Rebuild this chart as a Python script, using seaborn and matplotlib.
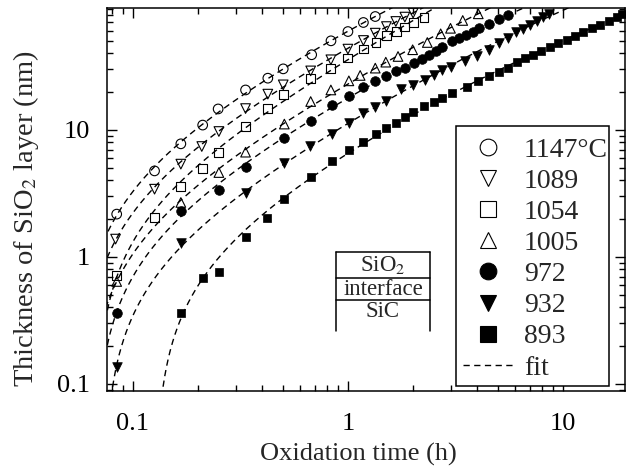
import numpy as np
import pandas as pd
import matplotlib
matplotlib.use("Agg")
import matplotlib.pyplot as plt
from matplotlib.lines import Line2D
from matplotlib.patches import Rectangle
from matplotlib.ticker import LogLocator, NullFormatter, FixedLocator, FixedFormatter
import seaborn as sns

# ---------------- data ----------------
temps = ["1147", "1089", "1054", "1005", "972", "932", "893"]
legend_labels = ["1147°C", "1089", "1054", "1005", "972", "932", "893", "fit"]

t1147 = [0.084, 0.126, 0.167, 0.211, 0.249, 0.334, 0.424, 0.50, 0.678, 0.834, 1.00, 1.18, 1.34]
d1147 = [2.17, 4.75, 7.76, 10.9, 14.6, 20.6, 25.5, 30.2, 39.0, 50.2, 59.4, 70.0, 78.0]

t1089 = [0.083, 0.126, 0.167, 0.209, 0.251, 0.334, 0.424, 0.50, 0.671, 0.833, 1.00, 1.18, 1.34,
         1.51, 1.67, 1.84, 2.01]
d1089 = [1.38, 3.41, 5.37, 7.39, 9.7, 14.7, 19.1, 22.6, 29.1, 35.6, 43.2, 50.5, 57.7,
         65.0, 71.3, 77.2, 83.0]

t1054 = [0.084, 0.126, 0.167, 0.210, 0.251, 0.334, 0.424, 0.50, 0.671, 0.833, 0.997, 1.18, 1.35,
         1.51, 1.68, 1.84, 2.01, 2.26]
d1054 = [0.718, 2.05, 3.58, 4.93, 6.67, 10.6, 14.8, 19.1, 25.2, 30.2, 36.7, 43.2, 49.0,
         55.3, 59.5, 64.4, 70.0, 77.1]

t1005 = [0.084, 0.167, 0.251, 0.334, 0.506, 0.671, 0.833, 1.01, 1.14, 1.34, 1.50, 1.71, 2.00,
         2.34, 2.70, 3.00, 3.42, 4.04]
d1005 = [0.64, 2.68, 4.61, 6.67, 11.1, 16.7, 20.6, 24.3, 26.8, 30.6, 34.1, 37.8, 42.7,
         48.7, 57.0, 63.0, 72.6, 81.9]

t972 = [0.084, 0.167, 0.251, 0.334, 0.504, 0.671, 0.84, 1.01, 1.18, 1.34, 1.50, 1.68, 1.84,
        2.03, 2.20, 2.39, 2.56, 2.75, 3.04, 3.28, 3.56, 3.83, 4.08, 4.53, 5.06, 5.54]
d972 = [0.36, 2.30, 3.33, 5.14, 8.6, 11.8, 15.6, 18.6, 21.7, 24.3, 26.6, 29.3, 30.9,
        33.5, 36.1, 39.0, 41.4, 45.0, 49.6, 52.7, 56.0, 59.4, 63.2, 68.4, 74.9, 79.5]

t932 = [0.084, 0.167, 0.334, 0.504, 0.666, 0.84, 1.01, 1.18, 1.34, 1.50, 1.76, 2.01, 2.28,
        2.51, 2.75, 3.00, 3.50, 4.00, 4.52, 5.04, 5.57, 6.04, 6.54, 7.00, 7.54, 8.11, 8.66]
d932 = [0.137, 1.28, 3.21, 5.47, 7.52, 9.25, 11.3, 13.5, 15.1, 16.9, 20.9, 22.6, 24.8,
        27.1, 29.5, 31.5, 34.9, 38.3, 42.7, 48.2, 53.3, 58.4, 62.1, 67.1, 71.3, 77.1, 81.9]

t893 = [0.168, 0.211, 0.252, 0.335, 0.421, 0.504, 0.671, 0.84, 1.01, 1.18, 1.35, 1.51, 1.68,
        1.84, 2.01, 2.26, 2.51, 2.73, 3.04, 3.59, 4.01, 4.54, 5.06, 5.57, 6.09, 6.65, 7.27,
        7.95, 8.70, 9.50, 10.4, 11.4, 12.4, 13.6, 14.9, 16.3, 17.8, 18.8]
d893 = [0.36, 0.687, 0.766, 1.43, 2.04, 2.85, 4.29, 5.7, 6.96, 8.09, 9.25, 10.3, 11.4,
        12.7, 13.8, 15.3, 16.5, 17.9, 19.5, 21.7, 24.3, 26.3, 28.5, 30.6, 33.9, 36.7, 39.0,
        41.4, 44.5, 48.2, 51.2, 55.0, 58.8, 63.1, 67.1, 72.1, 77.1, 81.9]

times = [t1147, t1089, t1054, t1005, t972, t932, t893]
thick = [d1147, d1089, d1054, d1005, d972, d932, d893]

markers = ["o", "v", "s", "^", "o", "v", "s"]
filled = [False, False, False, False, True, True, True]

# ---------------- style ----------------
sns.set_theme(style="ticks")
plt.rcParams["font.family"] = ["Liberation Serif", "DejaVu Serif"]
plt.rcParams["mathtext.fontset"] = "stix"
plt.rcParams["axes.linewidth"] = 1.1

fig = plt.figure(figsize=(6.33, 4.71), dpi=100)
ax = fig.add_axes([0.169, 0.170, 0.818, 0.813])

rows = []
for lab, tt, dd in zip(temps, times, thick):
    for a, b in zip(tt, dd):
        rows.append({"T": lab, "t": a, "d": b})
df = pd.DataFrame(rows)


def fit_deal_grove(tt, dd):
    """Fit d^2/B + d*A/B = t - t0 (Deal-Grove form) by a scan over t0."""
    tt = np.asarray(tt, float)
    dd = np.asarray(dd, float)
    best = None
    for t0 in np.linspace(-0.3, tt.min() * 0.995, 400):
        y = tt - t0
        w = 1.0 / y
        M = np.column_stack([dd ** 2, dd])
        (p, q), *_ = np.linalg.lstsq(M * w[:, None], y * w, rcond=None)
        if q < 0:
            q = 0.0
            p = np.sum(w ** 2 * y * dd ** 2) / np.sum(w ** 2 * dd ** 4)
        if p <= 0:
            continue
        pred = (-q + np.sqrt(q ** 2 + 4 * p * y)) / (2 * p)
        err = np.sum(np.log(pred / dd) ** 2)
        if best is None or err < best[0]:
            best = (err, t0, p, q)
    return best[1:]


tgrid = np.geomspace(0.07, 21, 900)
fit_rows = []
for lab, tt, dd in zip(temps, times, thick):
    t0, p, q = fit_deal_grove(tt, dd)
    y = tgrid - t0
    ok = y > 0
    dfit = (-q + np.sqrt(q ** 2 + 4 * p * y[ok])) / (2 * p)
    for a, b in zip(tgrid[ok], dfit):
        fit_rows.append({"T": lab, "t": a, "d": b})
fdf = pd.DataFrame(fit_rows)

dash = (0, (4.5, 3.2))
for lab in temps:
    sub = fdf[fdf["T"] == lab]
    sns.lineplot(data=sub, x="t", y="d", ax=ax, color="black", lw=1.0,
                 linestyle=dash, estimator=None, sort=True, legend=False)

for lab, m, f in zip(temps, markers, filled):
    sub = df[df["T"] == lab]
    size = 48 if m != "s" else 40
    if f:
        sns.scatterplot(data=sub, x="t", y="d", ax=ax, marker=m, s=size,
                        color="black", edgecolor="black", linewidth=0.5, legend=False, zorder=3)
    else:
        sns.scatterplot(data=sub, x="t", y="d", ax=ax, marker=m, s=size,
                        facecolor="none", edgecolor="black", linewidth=0.8, legend=False, zorder=3)

ax.set_xscale("log")
ax.set_yscale("log")
ax.set_xlim(0.0757, 19.4)
ax.set_ylim(0.088, 91)

fs = 19
ax.xaxis.set_major_locator(FixedLocator([0.1, 1, 10]))
ax.xaxis.set_major_formatter(FixedFormatter(["0.1", "1", "10"]))
ax.yaxis.set_major_locator(FixedLocator([0.1, 1, 10]))
ax.yaxis.set_major_formatter(FixedFormatter(["0.1", "1", "10"]))
for axis in (ax.xaxis, ax.yaxis):
    axis.set_minor_locator(LogLocator(base=10, subs=np.arange(2, 10), numticks=20))
    axis.set_minor_formatter(NullFormatter())
ax.tick_params(which="both", direction="in", top=True, right=True, colors="black",
               labelsize=fs, width=1.0)
ax.tick_params(which="major", length=7.5)
ax.tick_params(axis="y", which="major", pad=12)
ax.tick_params(axis="x", which="major", pad=16)
ax.tick_params(which="minor", length=4)

ax.set_xlabel("Oxidation time (h)", fontsize=fs)
ax.xaxis.set_label_coords(0.485, -0.135)
ax.set_ylabel("Thickness of SiO$_2$ layer (nm)", fontsize=20.5)
ax.yaxis.set_label_coords(-0.128, 0.449)
for s in ax.spines.values():
    s.set_color("black")

# legend: frame drawn as a rectangle, entries without frame
ax.add_patch(Rectangle((0.674, 0.013), 0.295, 0.679, transform=ax.transAxes,
                       facecolor="white", edgecolor="black", lw=1.1, zorder=4))
handles = []
for m, f in zip(markers, filled):
    handles.append(Line2D([], [], ls="none", marker=m, ms=8,
                          mfc="black" if f else "none", mec="black", mew=0.8))
handles.append(Line2D([], [], color="black", lw=1.0, ls=dash))
leg = ax.legend(handles, legend_labels, loc="center left", bbox_to_anchor=(0.687, 0.345),
                fontsize=20, frameon=False, markerscale=1.5, handlelength=1.8,
                handletextpad=0.4, labelspacing=0.205, borderpad=0, borderaxespad=0)
leg.set_zorder(5)

# schematic of the layer structure
tr = ax.transAxes
xl, xr = 0.442, 0.624
yt, y1, y2, yb = 0.363, 0.295, 0.237, 0.156
lk = dict(color="black", lw=1.1, transform=tr, clip_on=False)
ax.add_line(Line2D([xl, xl], [yb, yt], **lk))
ax.add_line(Line2D([xr, xr], [yb, yt], **lk))
ax.add_line(Line2D([xl, xr], [yt, yt], **lk))
ax.add_line(Line2D([xl, xr], [y1, y1], **lk))
ax.add_line(Line2D([xl, xr], [y2, y2], **lk))
xc = (xl + xr) / 2
ax.text(xc, (yt + y1) / 2, "SiO$_2$", transform=tr, ha="center", va="center", fontsize=16.5)
ax.text(xc, (y1 + y2) / 2, "interface", transform=tr, ha="center", va="center", fontsize=16.5)
ax.text(xc, (y2 + yb) / 2 + 0.01, "SiC", transform=tr, ha="center", va="center", fontsize=16.5)

fig.savefig("out.png", dpi=100)
